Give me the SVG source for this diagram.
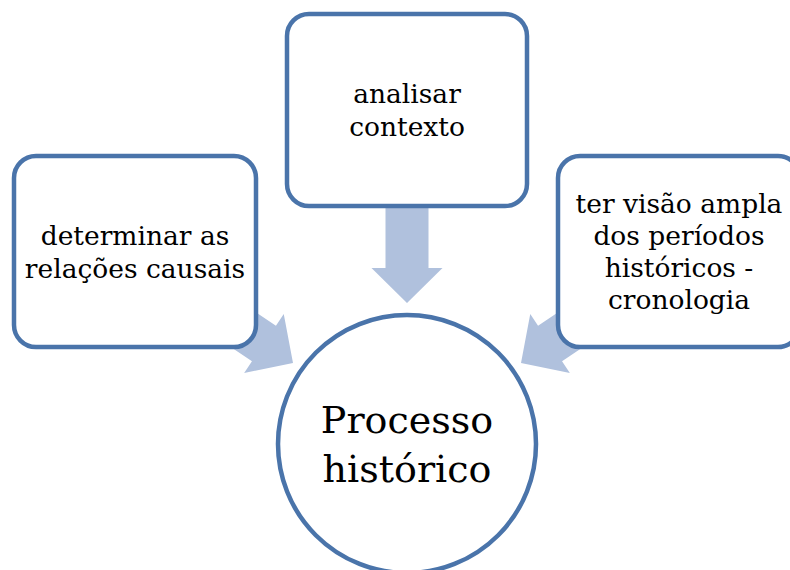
<svg xmlns="http://www.w3.org/2000/svg" width="790" height="570" viewBox="0 0 790 570">
<defs>
<style>
.box{fill:#ffffff;stroke:#4a74aa;stroke-width:4.5}
.arr{fill:#b0c1dd}
.t{font-family:"DejaVu Serif","Liberation Serif",serif;font-size:26.5px;fill:#000;text-anchor:middle}
.big{font-family:"DejaVu Serif","Liberation Serif",serif;font-size:38px;fill:#000;text-anchor:middle}
</style>
<polygon id="arrow" points="0,0 -35,-35.5 -35,-21.5 -100,-21.5 -100,21.5 -35,21.5 -35,35.5"/>
</defs>
<rect width="790" height="570" fill="#ffffff"/>
<g id="connectors">
<use href="#arrow" class="arr" transform="translate(407,303) rotate(90)"/>
<use href="#arrow" class="arr" transform="translate(293,363) rotate(33.9)"/>
<use href="#arrow" class="arr" transform="translate(521,363) rotate(146.1)"/>
</g>
<g id="node-contexto">
<rect class="box" x="287" y="14" width="240" height="192" rx="22"/>
<text class="t" x="407" y="103">analisar</text>
<text class="t" x="407" y="136">contexto</text>
</g>
<g id="node-causais">
<rect class="box" x="14" y="156" width="242" height="191" rx="22"/>
<text class="t" x="135" y="245">determinar as</text>
<text class="t" x="135" y="278">relações causais</text>
</g>
<g id="node-cronologia">
<rect class="box" x="558" y="156" width="242" height="191" rx="22"/>
<text class="t" x="679" y="213">ter visão ampla</text>
<text class="t" x="679" y="245">dos períodos</text>
<text class="t" x="679" y="277">históricos -</text>
<text class="t" x="679" y="309">cronologia</text>
</g>
<g id="node-processo">
<circle class="box" cx="407" cy="444" r="129"/>
<text class="big" x="407" y="433">Processo</text>
<text class="big" x="407" y="482">histórico</text>
</g>
</svg>
